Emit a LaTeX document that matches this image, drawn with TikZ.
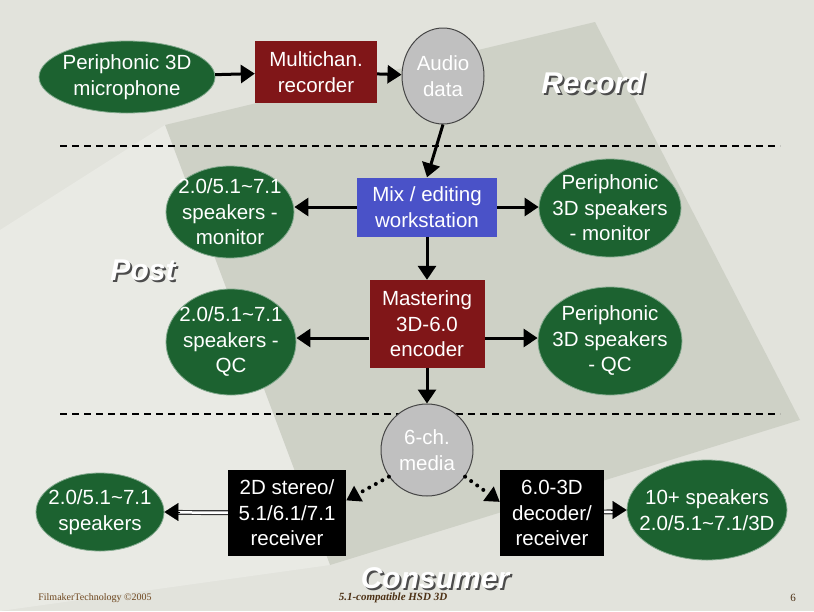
\documentclass[tikz,border=0pt]{standalone}
\usepackage{fontspec}
\setmainfont{Liberation Sans}
\newfontfamily\footfont{Liberation Serif}
\usetikzlibrary{positioning,shapes.geometric,arrows.meta,calc}
\definecolor{spkgreen}{RGB}{28,98,48}
\definecolor{boxred}{RGB}{128,22,24}
\definecolor{boxblue}{RGB}{74,82,200}
\definecolor{mediagrey}{RGB}{192,192,192}
\definecolor{slidebg}{RGB}{226,227,220}
\definecolor{photo}{RGB}{176,182,166}
\definecolor{footbrown}{RGB}{110,70,30}

\tikzset{
  base/.style={text=white, align=center, inner sep=0pt,
    font=\fontsize{20.5}{25.5}\selectfont},
  speaker/.style={base, ellipse, fill=spkgreen, draw=spkgreen!55!white, line width=0.8pt,
    inner xsep=-9pt, inner ysep=-4pt},
  unit/.style={base, rectangle, fill=#1},
  media/.style={base, ellipse, fill=mediagrey, draw=gray!55!black, line width=1pt},
  stage/.style={font=\fontsize{30}{30}\selectfont\bfseries\itshape, text=white, inner sep=0pt},
  stageshadow/.style={stage, text=gray!60!black},
  divider/.style={dashed, dash pattern=on 7pt off 5pt, line width=1.3pt},
  flow/.style={line width=3pt, -{Triangle[length=14pt,width=18pt]}},
  dotflow/.style={line width=4pt, line cap=round, dash pattern=on 0pt off 7.5pt,
    -{Triangle[length=14pt,width=17pt]}},
  dblshaft/.style={draw=gray!40!black, double=white, double distance=2.5pt, line width=1.2pt,
    shorten >=13pt},
  dbltip/.style={line width=0.1pt, -{Triangle[length=14pt,width=18pt]}}
}

\begin{document}
\begin{tikzpicture}[x=1pt,y=-1pt]
  \useasboundingbox (0,0) rectangle (814,611);
  \fill[slidebg] (0,0) rectangle (814,611);
  \fill[photo, opacity=0.4] (165,125) -- (595,22) -- (800,420) -- (330,565) -- cycle;
  \fill[white, opacity=0.25] (0,230) -- (165,125) -- (330,565) -- (0,611) -- cycle;

  % record
  \node[speaker, inner xsep=-5pt, minimum width=176, minimum height=72] (mic) at (127,77)
    {Periphonic 3D\\microphone};
  \node[unit=boxred, minimum width=122, minimum height=62] (rec) at (316,72)
    {Multichan.\\recorder};
  \node[media, minimum width=82, minimum height=96] (audio) at (443,76) {Audio\\data};
  \node[stageshadow] at (595,85) {Record};
  \node[stage] (record) at (593,83) {Record};

  \draw[flow] (mic) -- (rec);
  \draw[flow] (rec) -- (audio);

  \coordinate (divA) at (60,146);
  \coordinate (divAe) at (780,146);
  \draw[divider] (divA) -- (divAe);

  % post
  \node[unit=boxblue, minimum width=140, minimum height=59] (mix) at (427,207)
    {Mix / editing\\workstation};
  \node[speaker, minimum width=128, minimum height=92] (monL) at (230,212)
    {2.0/5.1\textasciitilde7.1\\speakers -\\monitor};
  \node[speaker, inner xsep=-10pt, minimum width=142, minimum height=98] (monR) at (610,208)
    {Periphonic\\3D speakers\\- monitor};
  \node[stageshadow] at (145,272) {Post};
  \node[stage] (post) at (143,270) {Post};

  \node[unit=boxred, minimum width=115, minimum height=88] (master) at (427,324)
    {Mastering\\3D-6.0\\encoder};
  \node[speaker, minimum width=130, minimum height=106] (qcL) at (231,342)
    {2.0/5.1\textasciitilde7.1\\speakers -\\QC};
  \node[speaker, inner xsep=-10pt, minimum width=144, minimum height=108] (qcR) at (610,341)
    {Periphonic\\3D speakers\\- QC};

  \coordinate (mastL) at ($(master.west)+(0,14)$);
  \coordinate (mastR) at ($(master.east)+(0,14)$);

  \draw[flow] (audio.south) -- (mix.north);
  \draw[flow] (mix.west) -- (mix.west -| monL.east);
  \draw[flow] (mix.east) -- (mix.east -| monR.west);
  \draw[flow] (mix) -- (master);
  \draw[flow] (mastL) -- (mastL -| qcL.east);
  \draw[flow] (mastR) -- (mastR -| qcR.west);

  \coordinate (divB) at (60,414);
  \coordinate (divBe) at (780,414);
  \draw[divider] (divB) -- (divBe);

  % consumer
  \node[media, minimum width=92, minimum height=92] (medium) at (427,450) {6-ch.\\media};
  \node[unit=black, minimum width=118, minimum height=86] (rcv2d) at (287,513)
    {2D stereo/\\5.1/6.1/7.1\\receiver};
  \node[speaker, minimum width=128, minimum height=78] (spk2d) at (100,512)
    {2.0/5.1\textasciitilde7.1\\speakers};
  \node[unit=black, minimum width=104, minimum height=86] (dec3d) at (552,513)
    {6.0-3D\\decoder/\\receiver};
  \node[speaker, inner xsep=-13pt, minimum width=160, minimum height=100] (spk3d) at (707,510)
    {10+ speakers\\2.0/5.1\textasciitilde7.1/3D};
  \node[stageshadow] at (437,580) {Consumer};
  \node[stage] (consumer) at (435,578) {Consumer};

  \draw[flow] (master) -- (medium);
  \draw[dotflow] (medium.215) -- (rcv2d.12);
  \draw[dotflow] (medium.-35) -- (dec3d.168);
  \draw[dblshaft] (rcv2d) -- (spk2d);
  \draw[dbltip] ($(spk2d.east)+(16,0)$) -- (spk2d.east);
  \draw[dblshaft] (dec3d) -- (spk3d);
  \draw[dbltip] ($(spk3d.west)+(-16,0)$) -- (spk3d.west);

  % footer
  \node[font=\footfont\fontsize{10}{12}\selectfont, text=footbrown] (maker) at (95,598)
    {FilmakerTechnology \textcopyright2005};
  \node[font=\footfont\fontsize{11}{13}\selectfont\bfseries\itshape, text=footbrown!70!black]
    (title) at (393,598) {5.1-compatible HSD 3D};
  \node[font=\footfont\fontsize{11}{13}\selectfont, text=footbrown!70!black] (page) at (793,598) {6};
\end{tikzpicture}
\end{document}
